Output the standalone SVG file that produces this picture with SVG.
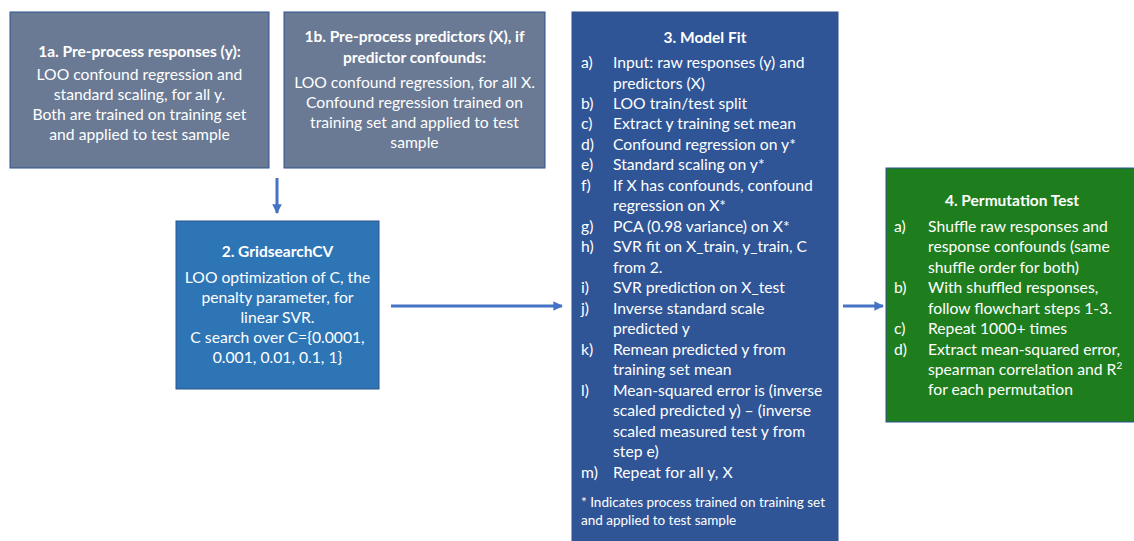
<svg xmlns="http://www.w3.org/2000/svg" width="1134" height="541" viewBox="0 0 1134 541">
  <style>
    text { font-family: Lato, "Liberation Sans", sans-serif; font-size: 15.7px; fill: #ffffff; }
    .t { font-weight: bold; text-anchor: middle; font-size: 15.5px; }
    .c { text-anchor: middle; }
    .fn { font-size: 13.5px; }
    .box { stroke: #2f528f; stroke-width: 1; }
    .conn { stroke: #4472c4; stroke-width: 3; fill: none; }
  </style>
  <defs>
    <marker id="ah" viewBox="0 0 10 10" refX="9" refY="5" markerWidth="3.2" markerHeight="3.2" orient="auto" markerUnits="strokeWidth">
      <path d="M0,0 L10,5 L0,10 z" fill="#4472c4"/>
    </marker>
  </defs>
  <rect width="1134" height="541" fill="#ffffff"/>

  <g id="node-1a">
    <rect class="box" x="10" y="12" width="259" height="156" fill="#6a7a94"/>
    <text class="t" x="139.5" y="57">1a. Pre-process responses (y):</text>
    <text class="c" x="139.5" y="80">LOO confound regression and</text>
    <text class="c" x="139.5" y="100">standard scaling, for all y.</text>
    <text class="c" x="139.5" y="120">Both are trained on training set</text>
    <text class="c" x="139.5" y="140">and applied to test sample</text>
  </g>

  <g id="node-1b">
    <rect class="box" x="284" y="12" width="261" height="156" fill="#6a7a94"/>
    <text class="t" x="414.5" y="42">1b. Pre-process predictors (X), if</text>
    <text class="t" x="414.5" y="63">predictor confounds:</text>
    <text class="c" x="414.5" y="88">LOO confound regression, for all X.</text>
    <text class="c" x="414.5" y="108">Confound regression trained on</text>
    <text class="c" x="414.5" y="128">training set and applied to test</text>
    <text class="c" x="414.5" y="148">sample</text>
  </g>

  <g id="node-2">
    <rect class="box" x="176" y="221" width="203" height="168" fill="#2e75b6"/>
    <text class="t" x="277.5" y="257">2. GridsearchCV</text>
    <text class="c" x="277.5" y="283">LOO optimization of C, the</text>
    <text class="c" x="277.5" y="303">penalty parameter, for</text>
    <text class="c" x="277.5" y="323">linear SVR.</text>
    <text class="c" x="277.5" y="343">C search over C={0.0001,</text>
    <text class="c" x="277.5" y="363">0.001, 0.01, 0.1, 1}</text>
  </g>

  <g id="node-3">
    <rect class="box" x="572" y="12" width="266" height="540" fill="#2f5597"/>
    <text class="t" x="705" y="43">3. Model Fit</text>
    <text x="581" y="68">a)</text><text x="613" y="68">Input: raw responses (y) and</text>
    <text x="613" y="89">predictors (X)</text>
    <text x="581" y="109">b)</text><text x="613" y="109">LOO train/test split</text>
    <text x="581" y="129">c)</text><text x="613" y="129">Extract y training set mean</text>
    <text x="581" y="150">d)</text><text x="613" y="150">Confound regression on y*</text>
    <text x="581" y="170">e)</text><text x="613" y="170">Standard scaling on y*</text>
    <text x="581" y="191">f)</text><text x="613" y="191">If X has confounds, confound</text>
    <text x="613" y="211">regression on X*</text>
    <text x="581" y="232">g)</text><text x="613" y="232">PCA (0.98 variance) on X*</text>
    <text x="581" y="252">h)</text><text x="613" y="252">SVR fit on X_train, y_train, C</text>
    <text x="613" y="273">from 2.</text>
    <text x="581" y="293">i)</text><text x="613" y="293">SVR prediction on X_test</text>
    <text x="581" y="314">j)</text><text x="613" y="314">Inverse standard scale</text>
    <text x="613" y="334">predicted y</text>
    <text x="581" y="355">k)</text><text x="613" y="355">Remean predicted y from</text>
    <text x="613" y="375">training set mean</text>
    <text x="581" y="396">l)</text><text x="613" y="396">Mean-squared error is (inverse</text>
    <text x="613" y="416">scaled predicted y) – (inverse</text>
    <text x="613" y="437">scaled measured test y from</text>
    <text x="613" y="457">step e)</text>
    <text x="581" y="478">m)</text><text x="613" y="478">Repeat for all y, X</text>
    <text class="fn" x="581" y="507">* Indicates process trained on training set</text>
    <text class="fn" x="581" y="525">and applied to test sample</text>
  </g>

  <g id="node-4">
    <rect class="box" x="886" y="168" width="260" height="254" fill="#1e7e1e"/>
    <text class="t" x="1012" y="206">4. Permutation Test</text>
    <text x="894" y="232">a)</text><text x="928" y="232">Shuffle raw responses and</text>
    <text x="928" y="252">response confounds (same</text>
    <text x="928" y="273">shuffle order for both)</text>
    <text x="894" y="293">b)</text><text x="928" y="293">With shuffled responses,</text>
    <text x="928" y="314">follow flowchart steps 1-3.</text>
    <text x="894" y="334">c)</text><text x="928" y="334">Repeat 1000+ times</text>
    <text x="894" y="355">d)</text><text x="928" y="355">Extract mean-squared error,</text>
    <text x="928" y="375">spearman correlation and R<tspan font-size="10" dy="-6">2</tspan></text>
    <text x="928" y="395">for each permutation</text>
  </g>

  <g id="connectors">
    <line class="conn" x1="277" y1="178" x2="277" y2="213" marker-end="url(#ah)"/>
    <line class="conn" x1="391" y1="306" x2="562" y2="306" marker-end="url(#ah)"/>
    <line class="conn" x1="843" y1="306" x2="883" y2="306" marker-end="url(#ah)"/>
  </g>
</svg>
